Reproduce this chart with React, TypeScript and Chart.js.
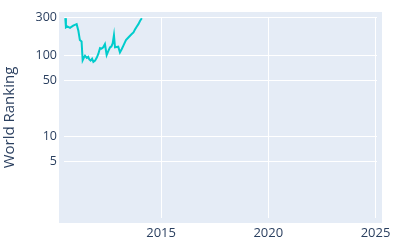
import React, { useEffect, useRef } from "react";
import { Chart, registerables } from "chart.js";

Chart.register(...registerables);

const years = [
  2010.53, 2010.56, 2010.62, 2010.75, 2010.9, 2011.06, 2011.14, 2011.21, 2011.29, 2011.34,
  2011.4, 2011.45, 2011.53, 2011.6, 2011.65, 2011.71, 2011.78, 2011.84, 2011.92, 2012.0,
  2012.07, 2012.15, 2012.22, 2012.3, 2012.38, 2012.46, 2012.54, 2012.62, 2012.68, 2012.74,
  2012.8, 2012.85, 2012.92, 2013.0, 2013.08, 2013.16, 2013.24, 2013.36, 2013.45, 2013.55,
  2013.63, 2013.71, 2013.78, 2013.86, 2013.94, 2014.02, 2014.1,
];
const rankings = [
  290, 224, 230, 220, 235, 245, 203, 156, 150, 88,
  95, 100, 94, 97, 90, 87, 92, 84, 87, 95,
  105, 124, 122, 127, 139, 102, 115, 127, 130, 142,
  180, 127, 128, 129, 110, 120, 133, 156, 165, 176,
  185, 194, 210, 228, 245, 270, 290,
];
const xTicks = [2015, 2020, 2025];
const yTicks = [5, 10, 50, 100, 300];

const bgPlugin = {
  id: "plotBg",
  beforeDraw(chart: any) {
    const { ctx, chartArea } = chart;
    if (!chartArea) return;
    ctx.save();
    ctx.fillStyle = "#e5ecf6";
    ctx.fillRect(chartArea.left - 5, chartArea.top - 5, chartArea.right - chartArea.left + 10, chartArea.bottom - chartArea.top + 10);
    ctx.restore();
  },
};

export default function App() {
  const ref = useRef<HTMLCanvasElement>(null);
  useEffect(() => {
    document.body.style.margin = "0";
    const chart = new Chart(ref.current!, {
      type: "line",
      data: {
        datasets: [
          {
            data: years.map((y, i) => ({ x: y, y: rankings[i] })),
            borderColor: "#00cccc",
            borderWidth: 2,
            pointRadius: 0,
            tension: 0,
            fill: false,
          },
        ],
      },
      options: {
        animation: false,
        responsive: false,
        maintainAspectRatio: false,
        layout: { padding: { top: 17, right: 23, left: 0, bottom: 0 } },
        plugins: { legend: { display: false }, tooltip: { enabled: false } },
        scales: {
          x: {
            type: "linear",
            min: 2010.47,
            max: 2025.07,
            afterBuildTicks: (s: any) => {
              s.ticks = xTicks.map((v) => ({ value: v }));
            },
            afterFit: (s: any) => {
              s.height = 32;
            },
            grid: { color: "#ffffff", lineWidth: 1, drawTicks: false },
            border: { display: false },
            ticks: {
              padding: 7,
              color: "#2a3f5f",
              font: { family: "'Open Sans', sans-serif", size: 13 },
              callback: (v: any) => String(v),
              maxRotation: 0,
            },
          },
          y: {
            type: "logarithmic",
            min: 1,
            max: 300,
            afterBuildTicks: (s: any) => {
              s.ticks = yTicks.map((v) => ({ value: v }));
            },
            afterFit: (s: any) => {
              s.width = 64;
            },
            grid: { color: "#ffffff", lineWidth: 1, drawTicks: false },
            border: { display: false },
            ticks: {
              padding: 7,
              color: "#2a3f5f",
              font: { family: "'Open Sans', sans-serif", size: 12.5 },
              callback: (v: any) => String(v),
            },
            title: {
              display: true,
              text: "World Ranking",
              color: "#2a3f5f",
              font: { family: "'Open Sans', sans-serif", size: 15 },
              padding: { top: 1, bottom: 0 },
            },
          },
        },
      },
      plugins: [bgPlugin],
    });
    return () => chart.destroy();
  }, []);
  return (
    <div style={{ position: "absolute", left: 0, top: 0, width: 400, height: 250, background: "#fff" }}>
      <canvas ref={ref} width={400} height={250} style={{ width: 400, height: 250 }} />
    </div>
  );
}
